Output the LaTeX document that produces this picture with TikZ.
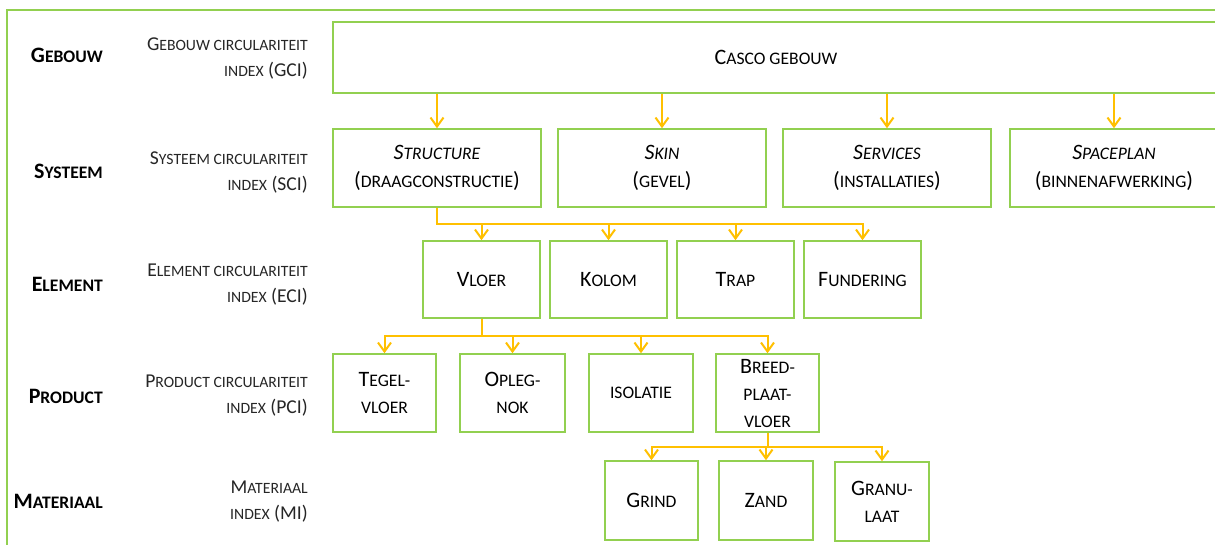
\documentclass[tikz,border=0pt]{standalone}
\usepackage{fontspec}
\setmainfont{Carlito}
\usetikzlibrary{arrows.meta,calc}
\definecolor{grn}{HTML}{92D050}
\definecolor{org}{HTML}{FFC000}
\newcommand\sm[1]{{\fontsize{17.6}{27}\selectfont #1}}
\newcommand\smi[1]{{\fontsize{15.7}{26}\selectfont #1}}
\tikzset{
 box/.style={draw=grn, line width=1.5pt, inner sep=0pt, align=center, font=\fontsize{22}{27}\selectfont, text=black},
 lbl/.style={anchor=east, inner sep=0pt, font=\bfseries\fontsize{22}{27}\selectfont, text=black},
 idx/.style={anchor=east, inner sep=0pt, align=right, font=\fontsize{19.6}{26}\selectfont, text=black!85},
 arr/.style={draw=org, line width=2pt, -{Straight Barb[length=9pt,width=13pt]}},
 frame/.style={draw=grn, line width=2pt}
}
\begin{document}
\begin{tikzpicture}[x=1pt,y=-1pt]
\useasboundingbox (0,0) rectangle (1215,544);
\clip (0,0) rectangle (1215,544);
\fill[white] (0,0) rectangle (1215,544);
\draw[frame] (7,10) rectangle (1240,570);

% left labels
\node[lbl] (lgeb) at (103,55) {G\sm{EBOUW}};
\node[lbl] (lsys) at (103,171) {S\sm{YSTEEM}};
\node[lbl] (lele) at (103,284) {E\sm{LEMENT}};
\node[lbl] (lpro) at (103,396) {P\sm{RODUCT}};
\node[lbl] (lmat) at (103,501) {M\sm{ATERIAAL}};

\node[idx] (igeb) at (308,58) {G\smi{EBOUW CIRCULARITEIT}\\\smi{INDEX} (GCI)};
\node[idx] (isys) at (308,172) {S\smi{YSTEEM CIRCULARITEIT}\\\smi{INDEX} (SCI)};
\node[idx] (iele) at (308,285) {E\smi{LEMENT CIRCULARITEIT}\\\smi{INDEX} (ECI)};
\node[idx] (ipro) at (308,396) {P\smi{RODUCT CIRCULARITEIT}\\\smi{INDEX} (PCI)};
\node[idx] (imat) at (308,502) {M\smi{ATERIAAL}\\\smi{INDEX} (MI)};

% building
\node[box, minimum width=886pt, minimum height=71pt] (casco) at (776,57.5) {C\sm{ASCO GEBOUW}};

% systems
\node[box, minimum width=208pt, minimum height=78pt, font=\fontsize{22}{28}\selectfont] (structure) at (437,168) {{\itshape S\sm{TRUCTURE}}\\(\sm{DRAAGCONSTRUCTIE})};
\node[box, minimum width=208pt, minimum height=78pt, font=\fontsize{22}{28}\selectfont] (skin) at (662,168) {{\itshape S\sm{KIN}}\\(\sm{GEVEL})};
\node[box, minimum width=208pt, minimum height=78pt, font=\fontsize{22}{28}\selectfont] (services) at (887,168) {{\itshape S\sm{ERVICES}}\\(\sm{INSTALLATIES})};
\node[box, minimum width=208pt, minimum height=78pt, font=\fontsize{22}{28}\selectfont] (spaceplan) at (1114,168) {{\itshape S\sm{PACEPLAN}}\\(\sm{BINNENAFWERKING})};

% elements
\node[box, minimum width=117pt, minimum height=77pt] (vloer) at (481.5,279.5) {V\sm{LOER}};
\node[box, minimum width=117pt, minimum height=77pt] (kolom) at (608.5,279.5) {K\sm{OLOM}};
\node[box, minimum width=117pt, minimum height=77pt] (trap) at (735.5,279.5) {T\sm{RAP}};
\node[box, minimum width=117pt, minimum height=77pt] (fund) at (862.5,279.5) {F\sm{UNDERING}};

% products
\node[box, minimum width=103pt, minimum height=78pt] (tegel) at (384.5,393) {T\sm{EGEL-}\\\sm{VLOER}};
\node[box, minimum width=105pt, minimum height=78pt] (opleg) at (512.5,393) {O\sm{PLEG-}\\\sm{NOK}};
\node[box, minimum width=104pt, minimum height=78pt] (isol) at (641,393) {\sm{ISOLATIE}};
\node[box, minimum width=103pt, minimum height=78pt] (breed) at (767.5,393) {B\sm{REED-}\\\sm{PLAAT-}\\\sm{VLOER}};

% materials
\node[box, minimum width=93pt, minimum height=79pt] (grind) at (651.5,500.5) {G\sm{RIND}};
\node[box, minimum width=94pt, minimum height=79pt] (zand) at (766,500.5) {Z\sm{AND}};
\node[box, minimum width=94pt, minimum height=79pt] (granu) at (882,501.5) {G\sm{RANU-}\\\sm{LAAT}};

% connectors: building -> systems
\foreach \n in {structure,skin,services,spaceplan}
  \draw[arr] (casco.south -| \n.north) -- (\n.north);

% structure -> elements
\coordinate (bus1) at (0,224);
\foreach \n in {vloer,kolom,trap,fund}
  \draw[arr] (structure.south) |- (bus1 -| \n.north) -- (\n.north);

% vloer -> products
\coordinate (bus2) at (0,336);
\foreach \n in {tegel,opleg,isol,breed}
  \draw[arr] (vloer.south) |- (bus2 -| \n.north) -- (\n.north);

% breedplaatvloer -> materials
\coordinate (bus3) at (0,447);
\foreach \n in {grind,zand,granu}
  \draw[arr] (breed.south) |- (bus3 -| \n.north) -- (\n.north);
\end{tikzpicture}
\end{document}
